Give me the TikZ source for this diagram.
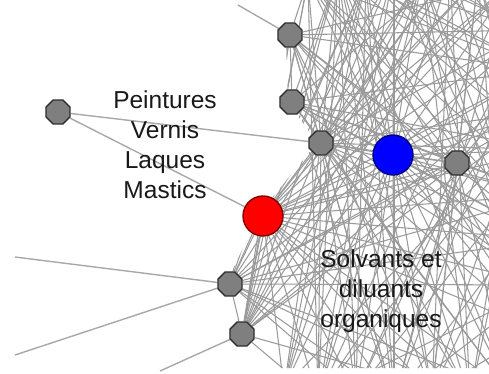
\documentclass[tikz,border=0pt]{standalone}
\usepackage{fontspec}
\setmainfont{Liberation Sans}
\usetikzlibrary{shapes.geometric,backgrounds}
\definecolor{nodegray}{HTML}{7F7F7F}
\definecolor{edgegray}{HTML}{9A9A9A}
\definecolor{extgray}{HTML}{A8A8A8}
\definecolor{nodeborder}{HTML}{303030}
\begin{document}
\begin{tikzpicture}[x=1pt,y=-1pt,
  mesh/.style={draw=edgegray, line width=1.05pt},
  ext/.style={draw=extgray, line width=1.4pt},
  graynode/.style={regular polygon, regular polygon sides=8, minimum size=26pt, inner sep=0pt,
    fill=nodegray, draw=nodeborder, line width=1.4pt},
  hub/.style={circle, minimum size=#1, inner sep=0pt, line width=1.4pt},
  lbl/.style={align=center, font=\fontsize{24.5}{30}\selectfont, inner sep=0pt, text=black!90}]
\useasboundingbox (0,0) rectangle (489,374);
% nodes
\node[graynode] (A) at (290,35) {};
\node[graynode] (B) at (292,102) {};
\node[graynode] (C) at (321,143) {};
\node[graynode] (D) at (457,163) {};
\node[graynode] (E) at (230,284) {};
\node[graynode] (F) at (242,334) {};
\node[graynode] (G) at (58,112) {};
\node[hub=40pt, fill=blue, draw=blue!50!black] (blue) at (393,155) {};
\node[hub=40pt, fill=red, draw=red!50!black] (red) at (263,216) {};
% free ends and off-picture nodes
\coordinate (xa) at (238,5);
\coordinate (xe1) at (15,257);
\coordinate (xe2) at (15,355);
\coordinate (xf) at (160,371);
\coordinate (t1) at (308,-20);
\coordinate (t2) at (338,-28);
\coordinate (t3) at (366,-22);
\coordinate (t4) at (394,-32);
\coordinate (t5) at (422,-24);
\coordinate (t6) at (450,-30);
\coordinate (t7) at (478,-22);
\coordinate (t8) at (510,-16);
\coordinate (r1) at (530,30);
\coordinate (r2) at (540,70);
\coordinate (r3) at (546,110);
\coordinate (r4) at (548,150);
\coordinate (r5) at (548,195);
\coordinate (r6) at (548,240);
\coordinate (r7) at (544,285);
\coordinate (r8) at (536,330);
\coordinate (b1) at (510,392);
\coordinate (b2) at (470,398);
\coordinate (b3) at (432,392);
\coordinate (b4) at (394,400);
\coordinate (b5) at (356,393);
\coordinate (b6) at (318,398);
\coordinate (b7) at (284,388);
% labels
\node[lbl] (lab1) at (165,145) {Peintures\\Vernis\\Laques\\Mastics};
\node[lbl] (lab2) at (381,291) {Solvants et\\diluants\\organiques};
\begin{pgfonlayer}{background}
\fill[white] (0,0) rectangle (489,374);
\begin{scope}
\clip (284,-2) -- (286,35) -- (288,102) -- (317,143) -- (259,214) -- (226,284) -- (238,336) -- (266,368)
  -- (490,368) -- (490,-2) -- cycle;
\pgfmathsetseed{11}
\foreach \a [count=\i] in {t1,t2,t3,t4,t5,t6,t7,t8,r1,r2,r3,r4,r5,r6,r7,r8,b1,b2,b3,b4,b5,b6,b7}{
  \foreach \b [count=\j] in {t1,t2,t3,t4,t5,t6,t7,t8,r1,r2,r3,r4,r5,r6,r7,r8,b1,b2,b3,b4,b5,b6,b7}{
    \ifnum\j>\i
      \pgfmathtruncatemacro\keep{rnd<0.36 ? 1 : 0}
      \ifnum\keep=1 \draw[mesh] (\a) -- (\b); \fi
    \fi
  }
}
\foreach \h/\p in {A/0.4,B/0.4,C/0.65,D/0.4,E/0.45,F/0.45,red/1,blue/0.85}{
  \foreach \b in {t1,t2,t3,t4,t5,t6,t7,t8,r1,r2,r3,r4,r5,r6,r7,r8,b1,b2,b3,b4,b5,b6,b7}{
    \pgfmathtruncatemacro\keep{rnd<\p ? 1 : 0}
    \ifnum\keep=1 \draw[mesh] (\h) -- (\b); \fi
  }
}
\foreach \a [count=\i] in {A,B,C,D,E,F,red,blue}{
  \foreach \b [count=\j] in {A,B,C,D,E,F,red,blue}{
    \ifnum\j>\i \draw[mesh] (\a) -- (\b); \fi
  }
}
\end{scope}
\draw[ext] (G) -- (C);
\draw[ext] (G) -- (red);
\draw[ext] (xa) -- (A);
\draw[ext] (xe1) -- (E);
\draw[ext] (xe2) -- (E);
\draw[ext] (xf) -- (F);
\end{pgfonlayer}
\end{tikzpicture}
\end{document}
